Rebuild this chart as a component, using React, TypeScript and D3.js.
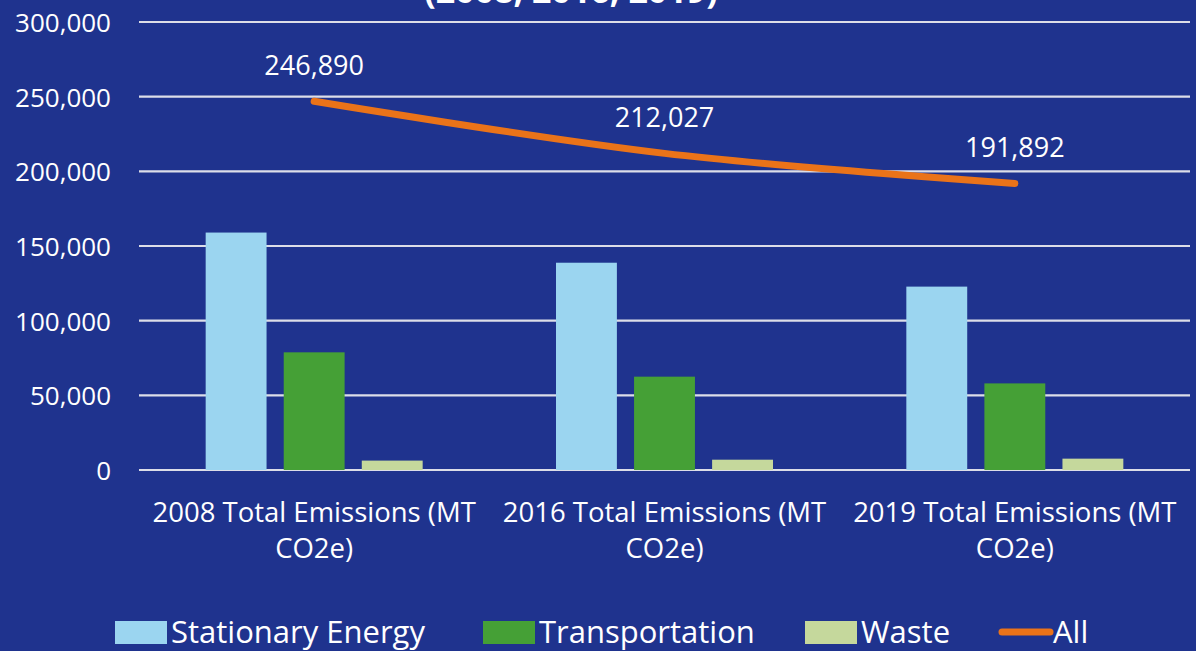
import React, { useEffect } from "react";
import * as d3 from "d3";

// chart data
const categories = [
  "2008 Total Emissions (MT CO2e)",
  "2016 Total Emissions (MT CO2e)",
  "2019 Total Emissions (MT CO2e)",
];
const seriesNames = ["Stationary Energy", "Transportation", "Waste"];
const stationary = [159000, 138800, 122800];
const transportation = [78800, 62500, 58000];
const waste = [6300, 6900, 7600];
const allTotals = [246890, 212027, 191892];
const yTicks = [0, 50000, 100000, 150000, 200000, 250000, 300000];
const titleTail = "(2008, 2016, 2019)";

const W = 1196;
const H = 651;
const BG = "#1f338e";
const COLORS = ["#9bd5f0", "#45a036", "#c5d89c"];
const LINE = "#ea7319";
const FONT = "'Open Sans', sans-serif";

const App: React.FC = () => {
  useEffect(() => {
    document.body.style.margin = "0";
  }, []);

  const y = d3.scaleLinear().domain([0, 300000]).range([470, 22]);
  const x0 = d3.scaleBand<string>().domain(categories).range([139, 1190]);
  const x1 = d3
    .scaleBand<string>()
    .domain(seriesNames)
    .range([0, 217])
    .paddingInner(0.22);
  const values = [stationary, transportation, waste];
  const cx = (c: string) => (x0(c) ?? 0) + x0.bandwidth() / 2;
  const fmt = d3.format(",");

  const linePath = d3
    .line<number>()
    .x((_, i) => cx(categories[i]))
    .y((d) => y(d))
    .curve(d3.curveCatmullRom.alpha(0.5))(allTotals);

  // legend entries (x position of swatch)
  const legend = [
    { name: "Stationary Energy", x: 115, color: COLORS[0] },
    { name: "Transportation", x: 483, color: COLORS[1] },
    { name: "Waste", x: 805, color: COLORS[2] },
  ];

  return (
    <svg width={W} height={H} style={{ display: "block" }} fontFamily={FONT}>
      <rect width={W} height={H} fill={BG} />

      {/* title, cut off at the top edge as in the source */}
      <text x={571} y={3} fill="#fff" fontSize={34} fontWeight="bold" textAnchor="middle">
        {titleTail}
      </text>

      {/* gridlines + y labels */}
      {yTicks.map((t) => (
        <g key={t}>
          <line x1={139} x2={1190} y1={y(t)} y2={y(t)} stroke="#dcdee8" strokeWidth={2.2} />
          <text x={111} y={y(t) + 10} fill="#fff" fontSize={26} textAnchor="end">
            {fmt(t)}
          </text>
        </g>
      ))}

      {/* bars */}
      {categories.map((c, ci) => (
        <g key={c} transform={`translate(${cx(c) - 108.5},0)`}>
          {seriesNames.map((s, si) => (
            <rect
              key={s}
              x={x1(s)}
              y={y(values[si][ci])}
              width={x1.bandwidth()}
              height={y(0) - y(values[si][ci])}
              fill={COLORS[si]}
            />
          ))}
        </g>
      ))}

      {/* total line */}
      <path d={linePath ?? ""} fill="none" stroke={LINE} strokeWidth={7} strokeLinecap="round" />
      {allTotals.map((v, i) => (
        <text
          key={i}
          x={cx(categories[i])}
          y={y(v) - 26}
          fill="#fff"
          fontSize={27}
          textAnchor="middle"
        >
          {fmt(v)}
        </text>
      ))}

      {/* category labels, wrapped on two lines */}
      {categories.map((c) => {
        const parts = c.split(" CO2e)");
        return (
          <g key={c} fill="#fff" fontSize={27.5} textAnchor="middle">
            <text x={cx(c)} y={522}>
              {parts[0]}
            </text>
            <text x={cx(c)} y={558}>
              CO2e)
            </text>
          </g>
        );
      })}

      {/* legend */}
      {legend.map((l) => (
        <g key={l.name}>
          <rect x={l.x} y={621} width={52} height={23} fill={l.color} />
          <text x={l.x + 56} y={643} fill="#fff" fontSize={31}>
            {l.name}
          </text>
        </g>
      ))}
      <line x1={1002} x2={1050} y1={632} y2={632} stroke={LINE} strokeWidth={7} strokeLinecap="round" />
      <text x={1053} y={643} fill="#fff" fontSize={31}>
        All
      </text>
    </svg>
  );
};

export default App;
